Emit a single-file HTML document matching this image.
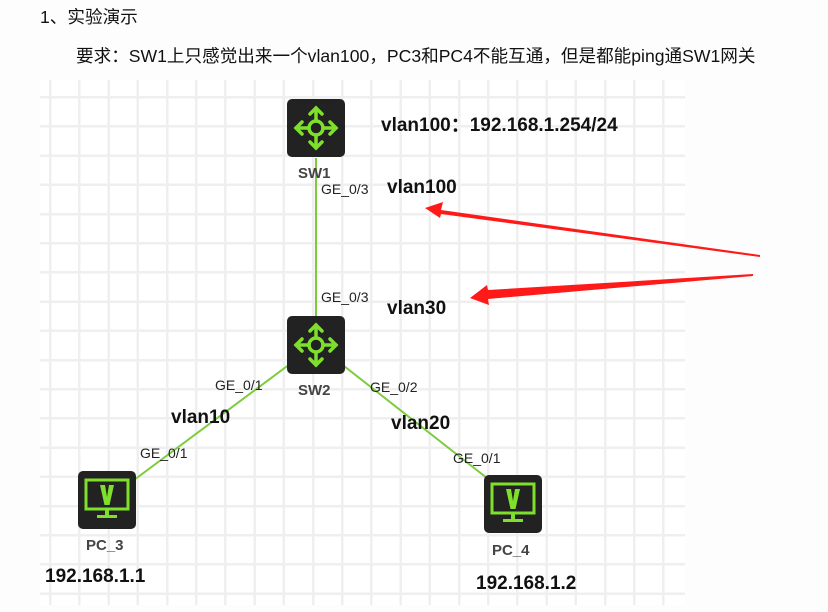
<!DOCTYPE html>
<html><head><meta charset="utf-8"><style>
html,body{margin:0;padding:0;background:#fdfdfd;}
body{width:828px;height:612px;overflow:hidden;position:relative;font-family:"Liberation Sans","Noto Sans CJK SC",sans-serif;}
.t{position:absolute;font-size:17.6px;color:#111;white-space:nowrap;}
.grid{position:absolute;left:40px;top:80px;width:645px;height:525px;background-color:#fff;
background-image:repeating-linear-gradient(to right,transparent 0,transparent 9px,#efefef 9px,#efefef 11.5px,transparent 11.5px,transparent 29.2px),
repeating-linear-gradient(to bottom,transparent 0,transparent 16px,#efefef 16px,#efefef 18.5px,transparent 18.5px,transparent 29.2px);}
</style></head><body>
<div class="t" style="left:40px;top:4px;">1、实验演示</div>
<div class="t" style="left:76px;top:43px;">要求：SW1上只感觉出来一个vlan100，PC3和PC4不能互通，但是都能ping通SW1网关</div>
<div class="grid"></div>
<svg width="828" height="612" style="position:absolute;left:0;top:0" xmlns="http://www.w3.org/2000/svg">
<defs>
<g id="sw">
<rect width="58" height="58" rx="5" fill="#222"/>
<g stroke="#7ee02a" stroke-width="3.5" fill="none" stroke-linecap="round">
<circle cx="29" cy="29" r="7"/>
<line x1="29" y1="22" x2="29" y2="9"/><polyline points="23,15 29,9 35,15"/>
<line x1="29" y1="36" x2="29" y2="49"/><polyline points="23,43 29,49 35,43"/>
<line x1="22" y1="29" x2="9" y2="29"/><polyline points="15,23 9,29 15,35"/>
<line x1="36" y1="29" x2="49" y2="29"/><polyline points="43,23 49,29 43,35"/>
</g></g>
<g id="pc">
<rect width="58" height="58" rx="5" fill="#222"/>
<rect x="8" y="9" width="42" height="29" fill="none" stroke="#7ee02a" stroke-width="3"/>
<polygon points="22,14 27,14 29,26 31,14 36,14 31.5,34 26.5,34" fill="#7ee02a"/>
<rect x="27" y="38" width="4" height="6" fill="#7ee02a"/>
<rect x="19" y="44" width="20" height="3" fill="#7ee02a"/>
</g>
</defs>
<g stroke="#7ccb3c" stroke-width="2">
<line x1="316" y1="158" x2="316" y2="316"/>
<line x1="290" y1="364" x2="134" y2="480"/>
<line x1="344" y1="366" x2="492" y2="482"/>
</g>
<use href="#sw" x="287" y="99"/>
<use href="#sw" x="287" y="316"/>
<use href="#pc" x="78" y="471"/>
<use href="#pc" x="484" y="475"/>
<g fill="#ff1a1a">
<polygon points="760,255 441,210 443,202 425,208 440,218 441,214 760,257"/>
<polygon points="753,274 488,290 487,285 470,298 489,305 488,299 753,276"/>
</g>
<g font-family="Liberation Sans" fill="#222">
<g font-size="14">
<text x="321" y="194">GE_0/3</text>
<text x="321" y="302">GE_0/3</text>
<text x="215" y="390">GE_0/1</text>
<text x="370" y="392">GE_0/2</text>
<text x="140" y="458">GE_0/1</text>
<text x="453" y="463">GE_0/1</text>
</g>
<g font-size="15" font-weight="bold" fill="#444">
<text x="298" y="178">SW1</text>
<text x="298" y="395">SW2</text>
<text x="86" y="550">PC_3</text>
<text x="492" y="555">PC_4</text>
</g>
<g font-size="19" font-weight="bold" fill="#111">
<text x="381" y="131">vlan100：192.168.1.254/24</text>
<text x="387" y="193">vlan100</text>
<text x="387" y="314">vlan30</text>
<text x="171" y="423">vlan10</text>
<text x="391" y="429">vlan20</text>
<text x="45" y="582">192.168.1.1</text>
<text x="476" y="589">192.168.1.2</text>
</g>
</g>
</svg>
</body></html>
